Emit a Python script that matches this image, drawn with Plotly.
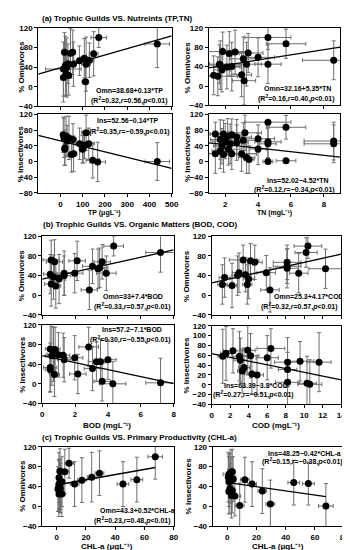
import plotly.graph_objects as go

# ---------------- data ----------------
# (a) Omnivores vs TP
a1_tp = [435, 172, 149, 112, 115, 85, 107, 130, 55, 45, 18, 58, 33, 22, 13, 25, 13, 37, 28]
a1_omn = [87, 100, 67, 10, 46, 53, 58, 54, 70, 68, 70, 46, 47, 43, 36, 26, 19, 23, 39]
a1_tp_err = [55, 35, 20, 15, 20, 25, 15, 20, 10, 10, 5, 10, 8, 6, 80, 8, 5, 10, 8]
a1_omn_err = [48, 20, 45, 50, 55, 30, 40, 35, 45, 50, 40, 45, 40, 60, 55, 45, 50, 40, 60]

# (a) Insectivores vs TP
a3_tp = [12, 16, 30, 38, 19, 56, 49, 59, 86, 108, 115, 102, 99, 127, 145, 167, 435, 25, 20]
a3_ins = [68, 60, 52, 60, 31, 56, 18, 20, 45, 42, 73, 37, 31, 45, 3, -1, 0, 65, 35]
a3_tp_err = [5, 8, 10, 10, 6, 15, 12, 15, 20, 20, 20, 15, 15, 25, 30, 35, 55, 8, 6]
a3_ins_err = [45, 50, 40, 55, 40, 40, 45, 45, 40, 35, 45, 40, 35, 40, 45, 50, 48, 50, 45]

# (a) Omnivores vs TN
a2_tn = [8.6, 5.7, 4.6, 4.6, 4.0, 3.4, 3.1, 3.3, 3.0, 3.15, 2.6, 2.25, 1.85, 2.4, 2.1, 1.8, 1.65, 1.55, 1.3, 1.7]
a2_omn = [53, 87, 100, 45, 59, 68, 56, 45, 23, 11, 70, 67, 71, 40, 39, 33, 45, 20, 22, 43]
a2_tn_err = [1.9, 1.2, 1.4, 0.8, 1.0, 0.9, 0.8, 0.9, 0.6, 0.7, 0.7, 0.6, 1.5, 0.6, 0.8, 0.5, 0.6, 1.2, 0.4, 1.2]
a2_omn_err = [40, 30, 25, 40, 40, 40, 45, 45, 45, 50, 45, 45, 40, 50, 45, 45, 40, 40, 40, 50]

# (a) Insectivores vs TN
a4_tn = [8.6, 8.6, 5.7, 5.7, 4.6, 4.6, 4.6, 4.6, 4.0, 4.0, 3.45, 3.3, 3.2, 3.1, 1.4, 1.9, 2.15,
         2.4, 2.7, 1.7, 2.0, 2.3, 2.7, 1.8, 2.2, 1.7, 1.4, 2.4, 3.0, 1.9]
a4_ins = [52, 45, 87, 2, 100, 50, 45, 0, 58, 32, 5, 10, 73, 54, 70, 70, 64,
          68, 62, 56, 52, 45, 48, 39, 31, 27, 20, 20, 20, 18]
a4_tn_err = [1.8, 1.8, 1.2, 0.6, 1.4, 0.8, 0.5, 0.3, 1.0, 0.5, 0.3, 0.5, 1.0, 0.8, 0.4, 0.8, 0.6,
             0.7, 0.9, 0.6, 0.8, 0.9, 0.7, 0.5, 0.7, 0.5, 0.4, 1.5, 0.9, 0.6]
a4_ins_err = [48, 48, 30, 0, 0, 40, 40, 0, 35, 40, 35, 40, 45, 45, 30, 35, 45,
              40, 45, 50, 45, 50, 45, 45, 40, 45, 50, 40, 45, 45]

# (b) Omnivores vs BOD
b1_bod = [7.2, 4.35, 3.9, 3.06, 3.4, 3.5, 3.65, 2.87, 2.13, 1.98, 1.34, 1.34, 1.03, 0.69, 0.49, 0.55, 0.75, 0.55, 0.83]
b1_omn = [87, 100, 45, 59, 54, 56, 68, 11, 70, 45, 45, 40, 33, 37, 43, 72, 68, 23, 19]
b1_bod_err = [0.9, 0.6, 0.6, 0.6, 0.4, 0.5, 0.5, 0.5, 0.5, 0.5, 0.5, 0.4, 0.4, 0.3, 0.4, 0.5, 0.5, 0.4, 0.3]
b1_omn_err = [40, 20, 35, 35, 40, 40, 35, 40, 40, 40, 45, 40, 50, 45, 40, 40, 45, 45, 45]

# (b) Omnivores vs COD
b2_cod = [10.4, 10.2, 12.3, 9.4, 8.15, 8.15, 8.15, 6.3, 5.9, 4.65, 4.2, 3.4, 4.0, 3.85, 3.65, 2.95, 2.8, 2.2, 1.15, 1.4]
b2_omn = [100, 87, 54, 45, 67, 59, 55, 11, 46, 67, 70, 72, 33, 22, 42, 46, 40, 20, 22, 36]
b2_cod_err = [1.5, 1.2, 1.8, 1.0, 1.5, 1.5, 1.2, 1.0, 1.0, 0.8, 0.9, 1.5, 0.6, 0.5, 0.6, 0.7, 0.6, 0.5, 0.5, 0.6]
b2_omn_err = [25, 30, 40, 40, 35, 35, 40, 45, 35, 35, 35, 30, 40, 40, 35, 40, 40, 45, 40, 40]

# (b) Insectivores vs BOD
b3_bod = [7.2, 4.3, 3.65, 3.3, 3.55, 4.0, 3.06, 2.83, 2.17, 1.98, 1.28, 1.34, 0.99, 0.79, 0.49, 0.69, 0.59, 0.49, 0.49, 0.75]
b3_ins = [2, 0, 5, 45, 45, 49, 31, 75, 20, 53, 58, 49, 59, 70, 71, 60, 57, 33, 29, 19]
b3_bod_err = [0.9, 0.8, 0.5, 0.5, 0.4, 0.5, 0.5, 0.6, 0.5, 0.5, 0.4, 0.4, 0.3, 0.3, 0.3, 0.4, 0.4, 0.4, 0.3, 0.3]
b3_ins_err = [50, 45, 40, 40, 45, 40, 45, 40, 40, 45, 45, 45, 45, 45, 50, 55, 60, 50, 45, 45]

# (b) Insectivores vs COD
b4_cod = [1.2, 1.55, 2.3, 3.0, 3.1, 3.9, 4.2, 3.5, 3.3, 4.35, 4.9, 6.4, 6.0, 8.2, 8.2, 8.2, 9.55, 11.6, 10.3, 10.6]
b4_ins = [58, 64, 69, 58, 50, 70, 59, 35, 28, 22, 20, 74, 55, 46, 31, 5, 48, 46, 3, 1]
b4_cod_err = [0.5, 0.6, 1.0, 0.8, 0.7, 0.8, 0.9, 0.6, 0.5, 0.8, 0.7, 1.5, 1.2, 1.4, 1.0, 1.3, 1.5, 1.3, 1.0, 1.3]
b4_ins_err = [55, 55, 45, 50, 45, 50, 45, 40, 45, 40, 40, 40, 45, 50, 35, 45, 40, 60, 55, 50]

# (c) Omnivores vs CHL-a
c1_chl = [67.4, 54.8, 45.3, 29.2, 23.9, 17.2, 12.2, 8.4, 5.5, 2.2, 1.5, 1.5, 2.2, 1.5, 0.8, 2.2, 1.5, 3.5, 2.5, 3.5]
c1_omn = [100, 54, 45, 67, 59, 53, 45, 87, 70, 71, 58, 45, 45, 42, 35, 33, 25, 25, 37, 50]
c1_chl_err = [5, 4, 4, 3, 3, 3, 3, 3, 3, 2, 1.5, 1.5, 2, 1.5, 1, 2, 1.5, 2, 1.5, 2]
c1_omn_err = [45, 45, 45, 45, 50, 45, 45, 30, 45, 45, 50, 50, 50, 50, 45, 45, 45, 45, 50, 50]

# (c) Insectivores vs CHL-a
c2_chl = [67.5, 55.5, 45.5, 29.5, 24, 17, 12, 8.5, 1.1, 2.5, 3.4, 1.8, 0.7, 1.1, 2.5, 1.8, 1.1, 3.4, 2.9, 5.2, 4.0]
c2_ins = [1, 46, 48, 5, 31, 45, 54, 2, 65, 69, 70, 62, 59, 50, 52, 36, 30, 32, 22, 21, 55]
c2_chl_err = [5, 4, 4, 3, 3, 3, 3, 3, 4, 2, 2, 1.5, 1, 1.5, 2, 1.5, 1.5, 2, 2, 4, 2]
c2_ins_err = [45, 43, 45, 48, 45, 45, 45, 45, 40, 45, 45, 45, 50, 50, 45, 50, 45, 45, 45, 40, 45]

# regression coefficients (intercept, slope)
fit_a1 = (38.68, 0.13)
fit_a2 = (32.16, 5.35)
fit_a3 = (52.56, -0.14)
fit_a4 = (52.02, -4.52)
fit_b1 = (33.0, 7.4)
fit_b2 = (25.3, 4.17)
fit_b3 = (57.2, -7.1)
fit_b4 = (63.39, -3.8)
fit_c1 = (43.3, 0.52)
fit_c2 = (48.25, -0.42)

# equation labels
eq_a1 = ["Omn=38.68+0.13*TP", "(R<sup>2</sup>=0.32,<i>r</i>=0.56,<i>p</i><0.01)"]
eq_a2 = ["Omn=32.16+5.35*TN", "(R<sup>2</sup>=0.16,<i>r</i>=0.40,<i>p</i><0.01)"]
eq_a3 = ["Ins=52.56−0.14*TP", "(R<sup>2</sup>=0.35,<i>r</i>=−0.59,<i>p</i><0.01)"]
eq_a4 = ["Ins=52.02−4.52*TN", "(R<sup>2</sup>=0.12,<i>r</i>=−0.34,<i>p</i><0.01)"]
eq_b1 = ["Omn=33+7.4*BOD", "(R<sup>2</sup>=0.33,<i>r</i>=0.57,<i>p</i><0.01)"]
eq_b2 = ["Omn=25.3+4.17*COD", "(R<sup>2</sup>=0.32,<i>r</i>=0.57,<i>p</i><0.01)"]
eq_b3 = ["Ins=57.2−7.1*BOD", "(R<sup>2</sup>=0.30,<i>r</i>=−0.55,<i>p</i><0.01)"]
eq_b4 = ["Ins=63.39−3.8*COD", "(R<sup>2</sup>=0.27,<i>r</i>=−0.51,<i>p</i><0.01)"]
eq_c1 = ["Omn=43.3+0.52*CHL-a", "(R<sup>2</sup>=0.23,<i>r</i>=0.48,<i>p</i><0.01)"]
eq_c2 = ["Ins=48.25−0.42*CHL-a", "(R<sup>2</sup>=0.15,<i>r</i>=−0.38,<i>p</i><0.01)"]

section_titles = ["(a) Trophic Guilds VS. Nutreints (TP,TN)",
                  "(b) Trophic Guilds VS. Organic Matters (BOD, COD)",
                  "(c) Trophic Guilds VS. Primary Productivity (CHL-a)"]

# ---------------- layout helpers ----------------
W, H = 350, 550
FONT = "Liberation Sans, Arial, sans-serif"
FS = 8      # ticks / titles
FS_EQ = 7   # equation text


def px_x(p):
    return p / W


def px_y(p):
    return 1 - p / H


fig = go.Figure()
layout = dict(width=W, height=H, margin=dict(l=0, r=0, t=0, b=0),
              paper_bgcolor="white", plot_bgcolor="white", showlegend=False,
              font=dict(family=FONT, size=FS, color="black", weight="bold"))
annotations = []


def add_panel(i, xs, ys, xe, ye, fit, eq, box, xr, yr, ytv, xtv, show_xticks,
              eq_pos, line_on_data=False):
    left, top, right, bottom = box
    xa = "x" if i == 1 else f"x{i}"
    ya = "y" if i == 1 else f"y{i}"
    xkey = "xaxis" if i == 1 else f"xaxis{i}"
    ykey = "yaxis" if i == 1 else f"yaxis{i}"
    fig.add_trace(go.Scatter(
        x=xs, y=ys, mode="markers", xaxis=xa, yaxis=ya,
        marker=dict(color="black", size=7),
        error_x=dict(type="data", array=xe, color="#6e6e6e", thickness=1, width=2),
        error_y=dict(type="data", array=ye, color="#6e6e6e", thickness=1, width=2),
        cliponaxis=True))
    if line_on_data:
        lx = [min(xs), max(xs)]
    else:
        lx = [xr[0], xr[1]]
    ly = [fit[0] + fit[1] * v for v in lx]
    fig.add_trace(go.Scatter(x=lx, y=ly, mode="lines", xaxis=xa, yaxis=ya,
                             line=dict(color="black", width=1.3), cliponaxis=True))
    common = dict(showline=True, linecolor="black", linewidth=1, mirror=True,
                  showgrid=False, zeroline=False, ticks="outside", ticklen=3,
                  tickcolor="black", tickwidth=1,
                  tickfont=dict(family=FONT, size=FS, color="black", weight="bold"))
    layout[xkey] = dict(domain=[px_x(left), px_x(right)], range=xr, anchor=ya,
                        tickvals=xtv, showticklabels=show_xticks, **common)
    layout[ykey] = dict(domain=[px_y(bottom), px_y(top)], range=yr, anchor=xa,
                        tickvals=ytv, **common)
    for txt, (cx, cy) in zip(eq, eq_pos):
        annotations.append(dict(text=txt, x=px_x(cx), y=px_y(cy), xref="paper", yref="paper",
                                showarrow=False, xanchor="center", yanchor="middle",
                                font=dict(family=FONT, size=FS_EQ, color="black", weight="bold")))


yt40 = [-40, 0, 40, 80, 120]
yt40b = [-80, -40, 0, 40, 80, 120]
yt20 = [-40, -20, 0, 20, 40, 60, 80, 100, 120]

add_panel(1, a1_tp, a1_omn, a1_tp_err, a1_omn_err, fit_a1, eq_a1, (29, 16, 166, 96),
          [-100, 500], [-40, 120], yt40, [0, 100, 200, 300, 400, 500], False, [(123, 80), (123, 90)])
add_panel(2, a2_tn, a2_omn, a2_tn_err, a2_omn_err, fit_a2, eq_a2, (204, 16, 339, 95),
          [1, 9], [-40, 120], yt40, [2, 4, 6, 8], False, [(295, 78), (294, 88)])
add_panel(3, a3_tp, a3_ins, a3_tp_err, a3_ins_err, fit_a3, eq_a3, (29, 104, 166, 184),
          [-100, 500], [-80, 120], yt40b, [0, 100, 200, 300, 400, 500], True, [(121, 110), (123, 121)])
add_panel(4, a4_tn, a4_ins, a4_tn_err, a4_ins_err, fit_a4, eq_a4, (204, 104, 339, 184),
          [1, 9], [-80, 120], yt40b, [2, 4, 6, 8], True, [(296, 171), (292, 180)])
add_panel(5, b1_bod, b1_omn, b1_bod_err, b1_omn_err, fit_b1, eq_b1, (33, 228, 168, 308),
          [0, 8], [-40, 120], yt40, [0, 2, 4, 6, 8], False, [(126, 289), (126, 299)])
add_panel(6, b2_cod, b2_omn, b2_cod_err, b2_omn_err, fit_b2, eq_b2, (207, 228, 340, 308),
          [0, 14], [-40, 120], yt40, [0, 2, 4, 6, 8, 10, 12, 14], False, [(307, 289), (297, 299)])
add_panel(7, b3_bod, b3_ins, b3_bod_err, b3_ins_err, fit_b3, eq_b3, (33, 318, 168, 398),
          [0, 8], [-40, 120], yt40, [0, 2, 4, 6, 8], True, [(125, 323), (124, 333)])
add_panel(8, b4_cod, b4_ins, b4_cod_err, b4_ins_err, fit_b4, eq_b4, (207, 319, 340, 399),
          [0, 14], [-40, 120], yt20, [0, 2, 4, 6, 8, 10, 12, 14], True, [(252, 380), (250, 389)])
add_panel(9, c1_chl, c1_omn, c1_chl_err, c1_omn_err, fit_c1, eq_c1, (33, 442, 168, 523),
          [-10, 80], [-40, 120], yt40, [0, 20, 40, 60, 80], True, [(131, 507), (126, 517)],
          line_on_data=True)
add_panel(10, c2_chl, c2_ins, c2_chl_err, c2_ins_err, fit_c2, eq_c2, (208, 442, 343, 523),
          [-10, 80], [-40, 120], yt40, [0, 20, 40, 60, 80], True, [(302, 449), (300, 457)],
          line_on_data=True)


def text_ann(txt, x, y, xanchor="center", angle=0, size=FS):
    annotations.append(dict(text=txt, x=px_x(x), y=px_y(y), xref="paper", yref="paper",
                            showarrow=False, xanchor=xanchor, yanchor="middle", textangle=angle,
                            font=dict(family=FONT, size=size, color="black", weight="bold")))


# section titles
text_ann(section_titles[0], 31, 7, "left")
text_ann(section_titles[1], 32, 216.5, "left")
text_ann(section_titles[2], 31, 433, "left")

# x-axis titles
text_ann("TP (μgL⁻¹)", 97, 204, size=7)
text_ann("TN (mgL⁻¹)", 271, 204, size=7)
text_ann("BOD (mgL⁻¹)", 100, 420)
text_ann("COD (mgL⁻¹)", 273, 420)
text_ann("CHL-a (μgL⁻¹)", 100, 543)
text_ann("CHL-a (μgL⁻¹)", 275, 543)

# y-axis titles
text_ann("% Omnivores", 11, 56, angle=-90)
text_ann("% Insectivores", 11, 144, angle=-90)
text_ann("% Omnivores", 182, 56, angle=-90)
text_ann("% Insectivores", 182, 144, angle=-90)
text_ann("% Omnivores", 12, 268, angle=-90)
text_ann("% Insectivores", 12, 358, angle=-90)
text_ann("% Omnivores", 181, 268, angle=-90)
text_ann("% Insectivores", 181, 359, angle=-90)
text_ann("% Omnivores", 12, 482, angle=-90)
text_ann("% Insectivores", 183, 482, angle=-90)

layout["annotations"] = annotations
fig.update_layout(**layout)
fig.write_html("out.html")
